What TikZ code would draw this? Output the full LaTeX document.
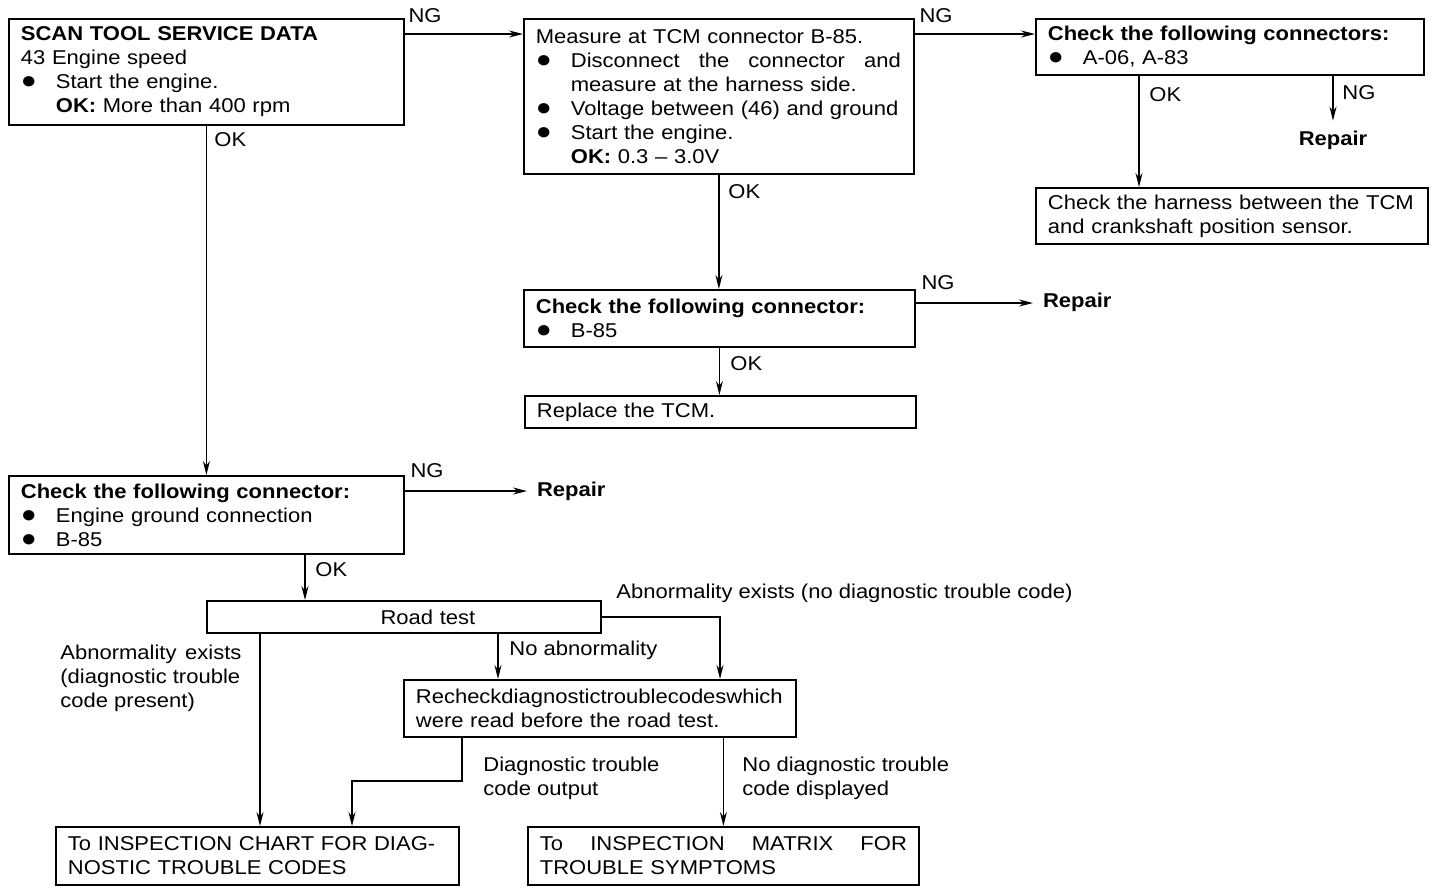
\documentclass[tikz,border=0pt]{standalone}
\usepackage{fontspec}
\setmainfont{Liberation Sans}[FakeStretch=1.1]
\usetikzlibrary{arrows.meta,positioning,calc}
\tikzset{>={Stealth[length=7pt,width=3.5pt]},
         box/.style={draw,line width=0.9pt,anchor=north west,inner xsep=6pt,
                     inner ysep=0pt,align=left,font=\fontsize{10}{12}\selectfont},
         lbl/.style={inner sep=0pt,font=\fontsize{10}{12}\selectfont},
         repair/.style={lbl,font=\fontsize{10}{12}\selectfont\bfseries,outer sep=5pt},
         flow/.style={->,line width=0.7pt}}
\newcommand{\bul}{\makebox[17.5pt][l]{{\fontsize{12}{7}\selectfont ●}}}
\newcommand{\ind}{\hspace*{17.5pt}}

\begin{document}
\begin{tikzpicture}[x=0.5pt,y=-0.5pt]
\useasboundingbox (0,0) rectangle (1440,890);
% boxes
\node[box,text width=185.5pt,minimum height=53pt] (scan) at (8,18)
  {\textbf{SCAN TOOL SERVICE DATA}\\43 Engine speed\\\bul Start the engine.\\
   \ind\textbf{OK:} More than 400 rpm};
\node[box,text width=183pt,minimum height=77.5pt] (measure) at (523,18)
  {Measure at TCM connector B-85.\\
   \bul\makebox[165pt][s]{Disconnect\hfill the\hfill connector\hfill and}\\
   \ind measure at the harness side.\\
   \bul Voltage between (46) and ground\\
   \bul Start the engine.\\
   \ind\textbf{OK:} 0.3 -- 3.0V};
\node[box,text width=182pt,minimum height=28pt] (conns) at (1035,18)
  {\textbf{Check the following connectors:}\\\bul A-06, A-83};
\node[box,text width=184pt,minimum height=28pt] (harness) at (1035,187)
  {Check the harness between the TCM\\and crankshaft position sensor.};
\node[box,text width=183.5pt,minimum height=28.5pt] (chkb) at (523,289)
  {\textbf{Check the following connector:}\\\bul B-85};
\node[box,text width=183.5pt,minimum height=16pt] (replace) at (524,395)
  {Replace the TCM.};
\node[box,text width=185.5pt,minimum height=39pt] (chkgnd) at (8,475)
  {\textbf{Check the following connector:}\\\bul Engine ground connection\\\bul B-85};
\node[box,text width=185pt,minimum height=16pt,align=center] (road) at (206,600)
  {\hspace*{24pt}Road test};
\node[box,text width=184pt,minimum height=28.5pt] (recheck) at (403,679)
  {Recheckdiagnostictroublecodeswhich\\were read before the road test.};
\node[box,text width=189.5pt,minimum height=29pt] (chart) at (55,826)
  {To INSPECTION CHART FOR DIAG-\\NOSTIC TROUBLE CODES};
\node[box,text width=183.5pt,minimum height=29pt] (symp) at (527,826)
  {\makebox[183.5pt][s]{To\hfill INSPECTION\hfill MATRIX\hfill FOR}\\TROUBLE SYMPTOMS};
% repair ends
\node[repair] (rep1) at (1333,140) {Repair};
\node[repair,anchor=west] (rep2) at (1033,302) {Repair};
\node[repair,anchor=west] (rep3) at (527,491) {Repair};
% connectors
\coordinate (ngA) at ($(scan.north east)+(0,16)$);
\draw[flow] (ngA) -- (ngA -| measure.west);
\draw[flow] (scan.south) -- (chkgnd.north);
\coordinate (ngB) at ($(measure.north east)+(0,16)$);
\draw[flow] (ngB) -- (ngB -| conns.west);
\draw[flow] (measure.south) -- (measure.south |- chkb.north);
\coordinate (okC) at ($(conns.south west)+(104,0)$);
\draw[flow] (okC) -- (okC |- harness.north);
\draw[flow] (conns.south -| rep1.north) -- (rep1.north);
\coordinate (ngD) at ($(chkb.north east)+(0,14)$);
\draw[flow] (ngD) -- (ngD -| rep2.west);
\draw[flow] (chkb.south) -- (chkb.south |- replace.north);
\coordinate (ngE) at ($(chkgnd.north east)+(0,16)$);
\draw[flow] (ngE) -- (ngE -| rep3.west);
\coordinate (okE) at ($(chkgnd.south west)+(297,0)$);
\draw[flow] (okE) -- (okE |- road.north);
\coordinate (abA) at ($(road.south west)+(54,0)$);
\draw[flow] (abA) -- (abA |- chart.north);
\coordinate (noA) at ($(road.south west)+(292,0)$);
\draw[flow] (noA) -- (noA |- recheck.north);
\coordinate (abB) at ($(recheck.north west)+(317,0)$);
\draw[flow] (road.east) -| (abB);
\coordinate (dtc) at ($(recheck.south west)+(59,0)$);
\draw[flow] (dtc) -- ++(0,43) -| ($(chart.north west)+(297,0)$);
\draw[flow] (recheck.south -| symp.north) -- (symp.north);
% labels
\node[lbl] at (425,16) {NG};
\node[lbl,anchor=west] at (214,140) {OK};
\node[lbl] at (936,16) {NG};
\node[lbl,anchor=west] at (728,192) {OK};
\node[lbl,anchor=west] at (1149,95) {OK};
\node[lbl,anchor=west] at (1342,93) {NG};
\node[lbl] at (938,283) {NG};
\node[lbl,anchor=west] at (730,364) {OK};
\node[lbl] at (427,471) {NG};
\node[lbl,anchor=west] at (315,570) {OK};
\node[lbl,anchor=west] at (616,593) {Abnormality exists (no diagnostic trouble code)};
\node[lbl,anchor=west] at (509,650) {No abnormality};
\node[lbl,anchor=west,align=left] at (60,678)
  {\makebox[90.5pt][s]{Abnormality\hfill exists}\\(diagnostic trouble\\code present)};
\node[lbl,anchor=west,align=left] at (483,778) {Diagnostic trouble\\code output};
\node[lbl,anchor=west,align=left] at (742,778) {No diagnostic trouble\\code displayed};
\end{tikzpicture}
\end{document}
